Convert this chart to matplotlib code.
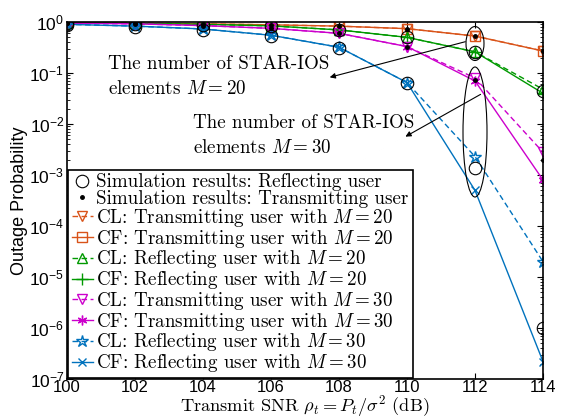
import matplotlib
matplotlib.use("Agg")
import matplotlib.pyplot as plt
from matplotlib.patches import Ellipse
from matplotlib.lines import Line2D
import numpy as np

plt.rcParams['mathtext.fontset'] = 'custom'
plt.rcParams['mathtext.rm'] = 'Liberation Sans'
plt.rcParams['mathtext.it'] = 'Liberation Sans:italic'
plt.rcParams['font.family'] = ['Liberation Sans', 'DejaVu Sans']

snr = [100, 102, 104, 106, 108, 110, 112, 114]

cl_t20 = [0.97, 0.95, 0.92, 0.88, 0.83, 0.74, 0.53, 0.27]
cf_t20 = [0.97, 0.95, 0.92, 0.88, 0.83, 0.74, 0.53, 0.27]
cl_r20 = [0.96, 0.94, 0.90, 0.84, 0.70, 0.50, 0.26, 0.048]
cf_r20 = [0.96, 0.94, 0.90, 0.84, 0.70, 0.50, 0.26, 0.040]
cl_t30 = [0.95, 0.92, 0.85, 0.75, 0.60, 0.33, 0.080, 2.8e-3]
cf_t30 = [0.95, 0.92, 0.85, 0.75, 0.60, 0.33, 0.070, 8.0e-4]
cl_r30 = [0.90, 0.83, 0.73, 0.55, 0.32, 0.065, 2.3e-3, 2.0e-5]
cf_r30 = [0.90, 0.83, 0.73, 0.55, 0.32, 0.065, 5.0e-4, 2.2e-7]

sim_r20 = [0.95, 0.93, 0.89, 0.83, 0.69, 0.50, 0.26, 0.045]
sim_r30 = [0.88, 0.80, 0.70, 0.53, 0.31, 0.065, 1.4e-3, 1.0e-6]
sim_t20 = [0.97, 0.95, 0.92, 0.88, 0.83, 0.74, 0.53, 0.27]
sim_t30 = [0.95, 0.92, 0.85, 0.75, 0.60, 0.33, 0.072, 2.0e-3]

orange = '#D95319'
green = '#009900'
magenta = '#CC00CC'
blue = '#0072BD'

fig = plt.figure(figsize=(5.64, 4.18), dpi=100)
ax = fig.add_axes([67/564, 1-379/418, 476/564, 357/418])

lw = 1.0
dash = (0, (4, 2.5))
ax.plot(snr, sim_r20, 'o', color='k', mfc='none', ms=9, mew=0.8, zorder=5)
ax.plot(snr, sim_r30, 'o', color='k', mfc='none', ms=9, mew=0.8, zorder=5)
ax.plot(snr, sim_t20, '.', color='k', ms=5, zorder=6)
ax.plot(snr, sim_t30, '.', color='k', ms=5, zorder=6)

ax.plot(snr, cl_t20, ls=dash, color=orange, marker='v', mfc='none', ms=7, lw=lw)
ax.plot(snr, cf_t20, '-', color=orange, marker='s', mfc='none', ms=7, lw=lw)
ax.plot(snr, cl_r20, ls=dash, color=green, marker='^', mfc='none', ms=7, lw=lw)
ax.plot(snr, cf_r20, '-', color=green, marker='+', ms=8, lw=lw)
ax.plot(snr, cl_t30, ls=dash, color=magenta, marker='v', mfc='none', ms=7, lw=lw)
ax.plot(snr, cf_t30, '-', color=magenta, marker=(6, 2, 0), ms=7, lw=lw)
ax.plot(snr, cl_r30, ls=dash, color=blue, marker='*', mfc='none', ms=9, lw=lw)
ax.plot(snr, cf_r30, '-', color=blue, marker='x', ms=6, lw=lw)

ax.set_yscale('log')
ax.set_xlim(100, 114)
ax.set_ylim(1e-7, 1)
ax.set_xticks(snr)
ax.set_yticks([10.0**k for k in range(-7, 1)])
ax.tick_params(which='both', direction='in', top=True, right=True, labelsize=12.5)
ax.tick_params(axis='x', pad=1, labelsize=12)
ax.tick_params(axis='y', pad=2)
ax.tick_params(which='major', length=4)
ax.tick_params(which='minor', length=2)
for s in ax.spines.values():
    s.set_linewidth(1.2)

ax.set_ylabel('Outage Probability', fontsize=13, labelpad=1)
fig.text(305/564, 7/418, r'Transmit SNR $\rho_t = P_t/\sigma^2$ (dB)', fontsize=13.2,
         family='cmr10', math_fontfamily='cm', ha='center', va='baseline')

# annotations
tkw = dict(transform=ax.transAxes, fontsize=13.7, family='cmr10',
           math_fontfamily='cm', va='top', ha='left', linespacing=1.5)
ax.text((108-67)/476, 1-(55-22)/357, 'The number of STAR-IOS\nelements $M = 20$', **tkw)
ax.text((193-67)/476, 1-(114-22)/357, 'The number of STAR-IOS\nelements $M = 30$', **tkw)

def fr(px, py):
    return ((px-67)/476, 1-(py-22)/357)

ax.annotate('', xy=fr(327, 78), xytext=fr(468, 41), xycoords='axes fraction',
            arrowprops=dict(arrowstyle='-|>', color='k', lw=0.8, mutation_scale=8))
ax.annotate('', xy=fr(403, 138), xytext=fr(483, 93), xycoords='axes fraction',
            arrowprops=dict(arrowstyle='-|>', color='k', lw=0.8, mutation_scale=8))

ax.add_patch(Ellipse(fr(475, 43.5), 18/476, 34/357, transform=ax.transAxes,
                     fill=False, ec='k', lw=0.8, zorder=7))
ax.add_patch(Ellipse(fr(475, 132), 24/476, 130/357, transform=ax.transAxes,
                     fill=False, ec='k', lw=0.8, zorder=7))

handles = [
    Line2D([], [], ls='none', marker='o', color='k', mfc='none', ms=9, mew=0.8),
    Line2D([], [], ls='none', marker='.', color='k', ms=5),
    Line2D([], [], ls=dash, color=orange, marker='v', mfc='none', ms=7, lw=lw),
    Line2D([], [], ls='-', color=orange, marker='s', mfc='none', ms=7, lw=lw),
    Line2D([], [], ls=dash, color=green, marker='^', mfc='none', ms=7, lw=lw),
    Line2D([], [], ls='-', color=green, marker='+', ms=8, lw=lw),
    Line2D([], [], ls=dash, color=magenta, marker='v', mfc='none', ms=7, lw=lw),
    Line2D([], [], ls='-', color=magenta, marker=(6, 2, 0), ms=7, lw=lw),
    Line2D([], [], ls=dash, color=blue, marker='*', mfc='none', ms=9, lw=lw),
    Line2D([], [], ls='-', color=blue, marker='x', ms=6, lw=lw),
]
labels = [
    'Simulation results: Reflecting user',
    'Simulation results: Transmitting user',
    'CL: Transmitting user with $M = 20$',
    'CF: Transmitting user with $M = 20$',
    'CL: Reflecting user with $M = 20$',
    'CF: Reflecting user with $M = 20$',
    'CL: Transmitting user with $M = 30$',
    'CF: Transmitting user with $M = 30$',
    'CL: Reflecting user with $M = 30$',
    'CF: Reflecting user with $M = 30$',
]
leg = ax.legend(handles, labels, loc='lower left', bbox_to_anchor=(0, 0),
                borderaxespad=0.05, prop={'family': 'cmr10', 'size': 13.7},
                handlelength=1.1, handletextpad=0.2, labelspacing=-0.065,
                borderpad=0.2, fancybox=False, framealpha=1, edgecolor='k')
leg.get_frame().set_linewidth(1.2)
for t in leg.get_texts():
    t.set_math_fontfamily('cm')

fig.savefig('out.png', dpi=100)
